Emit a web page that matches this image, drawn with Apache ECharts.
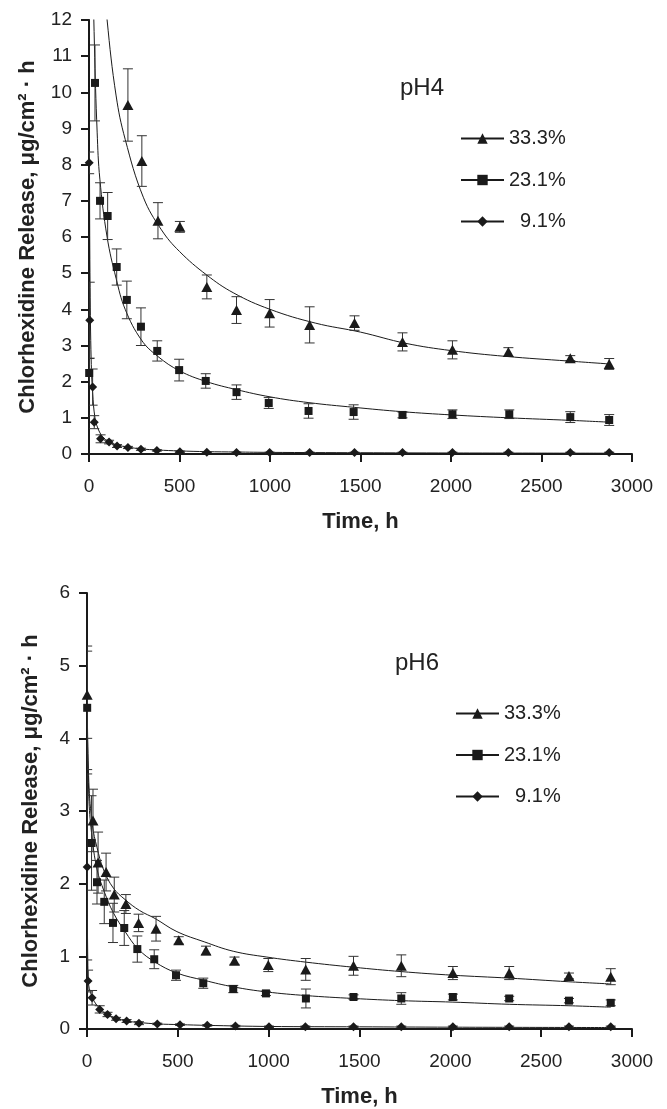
<!DOCTYPE html>
<html>
<head>
<meta charset="utf-8">
<script src="https://cdn.jsdelivr.net/npm/echarts@6/dist/echarts.min.js"></script>
<style>
  html, body { margin: 0; padding: 0; background: #fff; }
  #chart { width: 667px; height: 1109px; }
</style>
</head>
<body>
<div id="chart"></div>
<script>
// measured points: [time h, release, error]
const ph4High = [[215, 9.65, 1.0], [292, 8.1, 0.7], [381, 6.45, 0.5], [502, 6.28, 0.15], [651, 4.62, 0.33], [815, 3.98, 0.37], [998, 3.89, 0.38], [1219, 3.57, 0.5], [1467, 3.62, 0.2], [1732, 3.1, 0.25], [2008, 2.88, 0.25], [2317, 2.82, 0.12], [2659, 2.65, 0.07], [2874, 2.49, 0.15]];
const ph4Mid = [[1, 2.24, 0.4], [33, 10.26, 1.05], [61, 7.0, 0.5], [103, 6.58, 0.65], [153, 5.17, 0.5], [209, 4.26, 0.52], [287, 3.52, 0.52], [377, 2.85, 0.28], [498, 2.32, 0.3], [645, 2.02, 0.2], [815, 1.71, 0.2], [993, 1.41, 0.15], [1213, 1.19, 0.2], [1462, 1.16, 0.2], [1732, 1.08, 0.08], [2008, 1.1, 0.12], [2322, 1.1, 0.12], [2659, 1.02, 0.15], [2874, 0.94, 0.15]];
const ph4Low = [[1, 8.05, 0.3], [4, 3.7, 1.05], [20, 1.85, 0.5], [29, 0.88, 0.18], [64, 0.42, 0.11], [111, 0.33, 0.05], [155, 0.22, 0.04], [215, 0.18, 0.03], [287, 0.13, 0.03], [375, 0.1, 0.02], [502, 0.06, 0.02], [651, 0.05, 0.01], [815, 0.04, 0.01], [998, 0.04, 0.01], [1219, 0.04, 0.01], [1467, 0.04, 0.01], [1732, 0.04, 0.01], [2008, 0.04, 0.01], [2317, 0.04, 0.01], [2659, 0.04, 0.01], [2874, 0.04, 0.01]];

// fitted curves: [time h, release]
const ph4FitHigh = [[60, 15.5], [80, 13.4], [100, 12.0], [150, 9.9], [200, 8.7], [300, 7.1], [400, 6.2], [500, 5.6], [650, 4.95], [800, 4.45], [1000, 4.0], [1250, 3.62], [1500, 3.37], [1750, 3.06], [2000, 2.86], [2300, 2.7], [2650, 2.57], [2874, 2.49]];
const ph4FitMid = [[5, 30], [10, 20], [20, 14], [30, 11.3], [45, 8.9], [60, 7.6], [100, 6.0], [150, 4.85], [200, 4.0], [290, 3.15], [380, 2.7], [500, 2.3], [650, 2.0], [815, 1.78], [1000, 1.58], [1215, 1.42], [1465, 1.29], [1730, 1.17], [2005, 1.08], [2320, 1.0], [2660, 0.93], [2874, 0.88]];
const ph4FitLow = [[1, 14], [3, 7.5], [6, 4.6], [12, 2.6], [20, 1.7], [33, 1.0], [50, 0.7], [75, 0.48], [110, 0.34], [155, 0.25], [215, 0.19], [290, 0.14], [380, 0.11], [500, 0.085], [650, 0.065], [815, 0.055], [1000, 0.045], [1500, 0.035], [2000, 0.028], [2874, 0.022]];

const ph6High = [[1, 4.6, 0.6], [33, 2.87, 0.43], [61, 2.29, 0.42], [105, 2.16, 0.26], [150, 1.85, 0.24], [214, 1.72, 0.13], [284, 1.46, 0.12], [380, 1.38, 0.17], [505, 1.22, 0.05], [655, 1.08, 0.06], [812, 0.94, 0.05], [998, 0.88, 0.09], [1204, 0.82, 0.15], [1467, 0.87, 0.13], [1730, 0.87, 0.15], [2014, 0.77, 0.09], [2324, 0.77, 0.09], [2653, 0.73, 0.04], [2883, 0.72, 0.11]];
const ph6Mid = [[1, 4.42, 0.85], [25, 2.56, 0.65], [55, 2.02, 0.3], [95, 1.75, 0.3], [143, 1.46, 0.27], [205, 1.39, 0.24], [277, 1.1, 0.18], [370, 0.96, 0.13], [490, 0.74, 0.07], [640, 0.63, 0.07], [805, 0.55, 0.05], [985, 0.49, 0.03], [1205, 0.42, 0.13], [1467, 0.44, 0.03], [1730, 0.42, 0.08], [2014, 0.44, 0.04], [2324, 0.42, 0.03], [2653, 0.39, 0.03], [2883, 0.36, 0.04]];
const ph6Low = [[1, 2.23, 1.28], [6, 0.66, 0.15], [28, 0.43, 0.1], [70, 0.27, 0.05], [113, 0.2, 0.03], [160, 0.14, 0.02], [218, 0.11, 0.02], [286, 0.08, 0.02], [387, 0.07, 0.01], [512, 0.06, 0.01], [662, 0.05, 0.01], [817, 0.04, 0.01], [1002, 0.03, 0.01], [1202, 0.03, 0.01], [1467, 0.03, 0.01], [1730, 0.03, 0.01], [2014, 0.03, 0.01], [2324, 0.03, 0.01], [2653, 0.03, 0.01], [2883, 0.03, 0.01]];

const ph6FitHigh = [[1, 4.6], [10, 3.4], [30, 2.8], [55, 2.5], [90, 2.2], [145, 1.94], [210, 1.78], [290, 1.63], [375, 1.52], [495, 1.34], [645, 1.2], [805, 1.07], [990, 0.99], [1205, 0.92], [1467, 0.85], [1730, 0.79], [2014, 0.74], [2324, 0.7], [2653, 0.65], [2883, 0.62]];
const ph6FitMid = [[1, 4.4], [10, 3.2], [25, 2.7], [55, 2.2], [95, 1.89], [145, 1.6], [210, 1.34], [282, 1.1], [375, 0.92], [495, 0.77], [645, 0.67], [805, 0.58], [990, 0.51], [1205, 0.46], [1467, 0.42], [1730, 0.39], [2014, 0.37], [2324, 0.34], [2653, 0.32], [2883, 0.3]];
const ph6FitLow = [[1, 2.2], [6, 0.7], [30, 0.43], [75, 0.27], [113, 0.2], [160, 0.15], [218, 0.11], [286, 0.09], [387, 0.07], [512, 0.06], [662, 0.05], [1000, 0.035], [1500, 0.03], [2000, 0.025], [2883, 0.02]];

const seriesNames = ["33.3%", "23.1%", "9.1%"];
const seriesSymbols = ["triangle", "rect", "diamond"];
const symbolSizes = [[11, 10], [8, 8], [9, 9]];

const ink = "#1a1a1a";
const font = "Liberation Sans, Arial, sans-serif";
const yName = "Chlorhexidine Release, μg/cm² · h";

function errorBarItem(params, api) {
  const x = api.value(0);
  const v = api.value(1);
  const e = api.value(2);
  const top = api.coord([x, v + e]);
  const bot = api.coord([x, v - e]);
  const hw = 5;
  const style = { stroke: "#333", lineWidth: 1 };
  return {
    type: "group",
    children: [
      { type: "line", shape: { x1: top[0], y1: top[1], x2: bot[0], y2: bot[1] }, style: style },
      { type: "line", shape: { x1: top[0] - hw, y1: top[1], x2: top[0] + hw, y2: top[1] }, style: style },
      { type: "line", shape: { x1: bot[0] - hw, y1: bot[1], x2: bot[0] + hw, y2: bot[1] }, style: style }
    ]
  };
}

function xAxisFor(gridIndex) {
  return {
    gridIndex: gridIndex,
    type: "value",
    min: 0,
    max: 3000,
    interval: 500,
    axisLine: { show: true, onZero: false, lineStyle: { color: ink, width: 2 } },
    axisTick: { show: true, length: 8, lineStyle: { color: ink, width: 2 } },
    axisLabel: { fontSize: 19, color: "#222", margin: 23, fontFamily: font, formatter: (v) => String(v) },
    splitLine: { show: false },
    name: "Time, h",
    nameLocation: "middle",
    nameGap: 57,
    nameTextStyle: { fontSize: 22, fontWeight: "bold", color: "#222", fontFamily: font }
  };
}

function yAxisFor(gridIndex, max, gap) {
  return {
    gridIndex: gridIndex,
    type: "value",
    min: 0,
    max: max,
    interval: 1,
    axisLine: { show: true, onZero: false, lineStyle: { color: ink, width: 2 } },
    axisTick: { show: true, length: 8, lineStyle: { color: ink, width: 2 } },
    axisLabel: { fontSize: 19, color: "#222", margin: 17, fontFamily: font },
    splitLine: { show: false },
    name: yName,
    nameLocation: "middle",
    nameRotate: 90,
    nameGap: gap,
    nameTextStyle: { fontSize: 22, fontWeight: "bold", color: "#222", fontFamily: font }
  };
}

function buildSeries(axisIndex, points, fits) {
  const out = [];
  fits.forEach((fit, i) => {
    out.push({
      name: seriesNames[i],
      type: "line",
      xAxisIndex: axisIndex,
      yAxisIndex: axisIndex,
      data: fit,
      smooth: 0.4,
      showSymbol: false,
      symbol: seriesSymbols[i],
      clip: true,
      lineStyle: { color: ink, width: 1 },
      itemStyle: { color: ink },
      z: 2,
      silent: true
    });
  });
  points.forEach((pts, i) => {
    out.push({
      name: seriesNames[i] + " sd",
      type: "custom",
      xAxisIndex: axisIndex,
      yAxisIndex: axisIndex,
      data: pts,
      renderItem: errorBarItem,
      encode: { x: 0, y: 1 },
      clip: true,
      z: 3,
      silent: true
    });
    out.push({
      name: seriesNames[i] + " pts",
      type: "scatter",
      xAxisIndex: axisIndex,
      yAxisIndex: axisIndex,
      data: pts.map((p) => [p[0], p[1]]),
      symbol: seriesSymbols[i],
      symbolSize: symbolSizes[i],
      itemStyle: { color: ink, opacity: 1 },
      clip: true,
      z: 4,
      silent: true
    });
  });
  return out;
}

function legendFor(left, top) {
  return {
    data: seriesNames,
    orient: "vertical",
    left: left,
    top: top,
    padding: 0,
    itemWidth: 43,
    itemHeight: 13,
    itemGap: 21.5,
    selectedMode: false,
    formatter: (name) => (name === "9.1%" ? "  " + name : name),
    textStyle: { fontSize: 20, color: "#222", fontFamily: font }
  };
}

const chart = echarts.init(document.getElementById("chart"), null, { renderer: "canvas" });

const option = {
  backgroundColor: "#fff",
  animation: false,
  title: [
    { text: "pH4", left: 400, top: 76, padding: 0, textStyle: { fontSize: 24, fontWeight: "normal", color: "#222", fontFamily: font } },
    { text: "pH6", left: 395, top: 651, padding: 0, textStyle: { fontSize: 24, fontWeight: "normal", color: "#222", fontFamily: font } }
  ],
  legend: [legendFor(460, 128.5), legendFor(455, 703.5)],
  grid: [
    { left: 89, top: 20, width: 543, height: 434 },
    { left: 87, top: 593, width: 545, height: 436 }
  ],
  xAxis: [xAxisFor(0), xAxisFor(1)],
  yAxis: [yAxisFor(0, 12, 50), yAxisFor(1, 6, 45)],
  series: [].concat(
    buildSeries(0, [ph4High, ph4Mid, ph4Low], [ph4FitHigh, ph4FitMid, ph4FitLow]),
    buildSeries(1, [ph6High, ph6Mid, ph6Low], [ph6FitHigh, ph6FitMid, ph6FitLow])
  )
};

chart.setOption(option);
</script>
</body>
</html>
